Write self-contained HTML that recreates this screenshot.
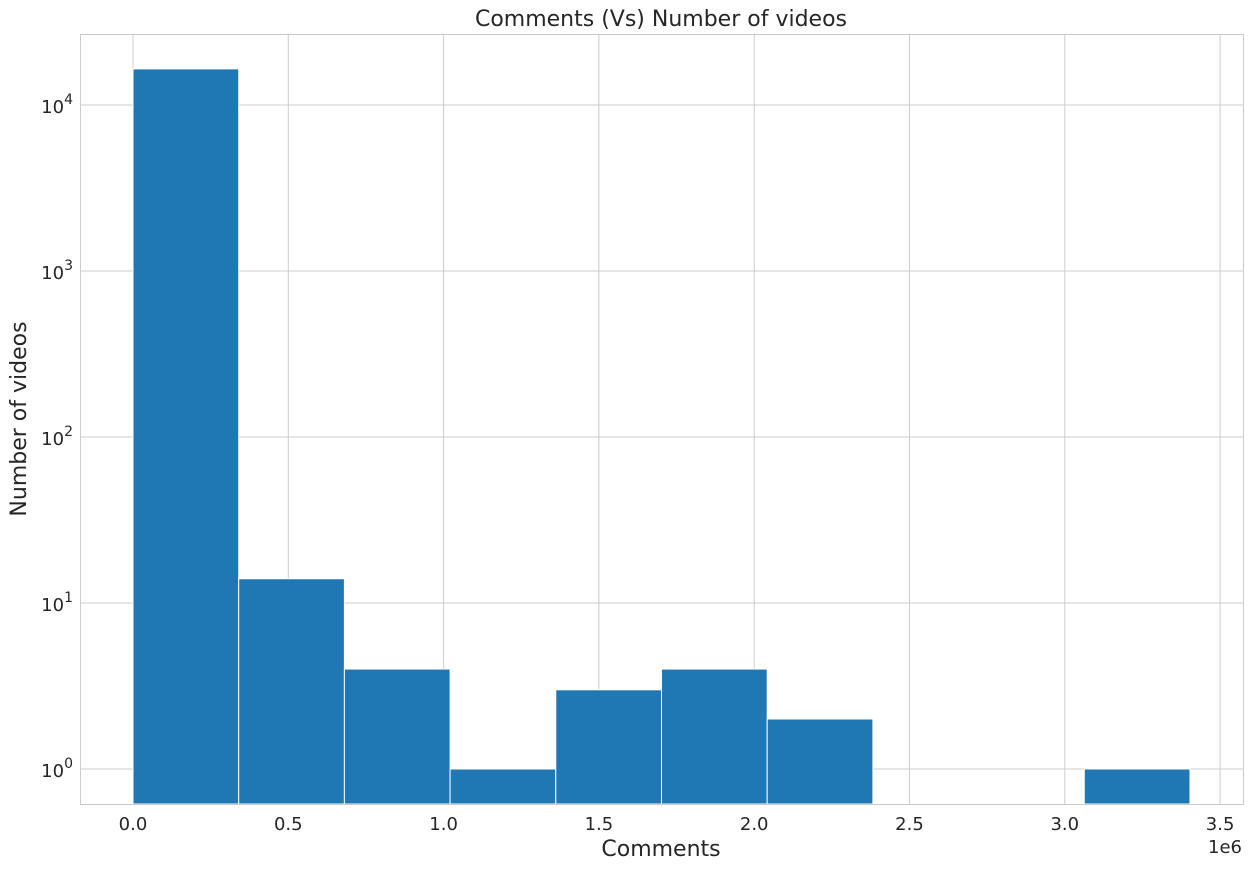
<!DOCTYPE html>
<html><head><meta charset="utf-8"><style>
html,body{margin:0;padding:0;background:#fff;}
svg text{font-family:"DejaVu Sans","Liberation Sans",sans-serif;fill:#262626;}
</style></head><body>
<svg id="chart" width="1252" height="868" xmlns="http://www.w3.org/2000/svg">
<g id="grid"></g>
<g id="bars"></g>
<rect x="80.5" y="34.5" width="1163" height="770" fill="none" stroke="#cccccc" stroke-width="1"/>
<g id="ticks"></g>
<text x="661" y="26" font-size="22" text-anchor="middle">Comments (Vs) Number of videos</text>
<text x="661" y="856" font-size="22" text-anchor="middle">Comments</text>
<text transform="translate(26,419) rotate(-90)" font-size="22" text-anchor="middle">Number of videos</text>
<text x="1242" y="853" font-size="18" text-anchor="end">1e6</text>
</svg>
<script>
const binStart = 0;
const binWidth = 0.3403; // in millions
const counts = [16500, 14, 4, 1, 3, 4, 2, 0, 0, 1];
const xTicks = [0, 0.5, 1.0, 1.5, 2.0, 2.5, 3.0, 3.5];
const xTickLabels = ["0.0","0.5","1.0","1.5","2.0","2.5","3.0","3.5"];
const yTicks = [0, 1, 2, 3, 4];

const NS = "http://www.w3.org/2000/svg";
const X0 = 133, XPX = 310.6;
const Y0 = 769, DEC = 166, BOTTOM = 804, TOP = 34, LEFT = 80, RIGHT = 1243;
const xs = v => X0 + v * XPX;
const ys = v => Y0 - Math.log10(v) * DEC;

function mk(tag, attrs, parent) {
  const e = document.createElementNS(NS, tag);
  for (const k in attrs) e.setAttribute(k, attrs[k]);
  parent.appendChild(e);
  return e;
}
const grid = document.getElementById('grid');
const bars = document.getElementById('bars');
const ticks = document.getElementById('ticks');

xTicks.forEach((t, i) => {
  const x = xs(t);
  const l = mk('line', {x1: x, x2: x, y1: TOP, y2: BOTTOM, stroke: '#cccccc', 'stroke-width': 1}, grid);
  
  
  const tx = mk('text', {x: x, y: 830, 'font-size': 18, 'text-anchor': 'middle'}, ticks);
  tx.textContent = xTickLabels[i];
  
  
});
yTicks.forEach(p => {
  const y = ys(Math.pow(10, p));
  const l = mk('line', {x1: LEFT, x2: RIGHT, y1: y, y2: y, stroke: '#cccccc', 'stroke-width': 1}, grid);
  
  
  const tx = mk('text', {x: 73, y: y + 8, 'font-size': 18, 'text-anchor': 'end'}, ticks);
  tx.innerHTML = '10<tspan dy="-9" font-size="14">' + p + '</tspan>';
  
  
});
counts.forEach((c, i) => {
  if (c <= 0) return;
  const x1 = xs(binStart + i * binWidth), x2 = xs(binStart + (i + 1) * binWidth);
  const y = ys(c);
  const r = mk('rect', {x: x1, y: y, width: x2 - x1, height: BOTTOM - y, fill: '#1f77b4', stroke: '#ffffff', 'stroke-width': 1}, bars);
  
  
});
</script>
</body></html>
